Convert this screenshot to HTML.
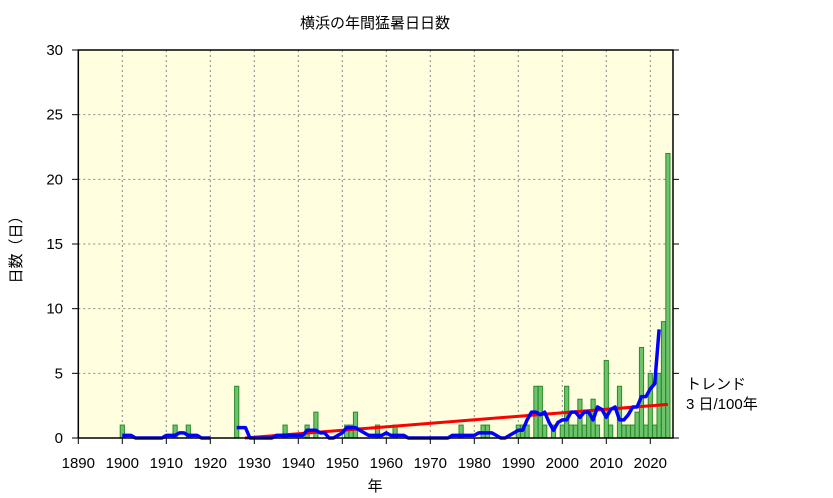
<!DOCTYPE html>
<html><head><meta charset="utf-8"><style>body{margin:0;background:#fff}svg{display:block}text{font-family:"Liberation Sans","Noto Sans CJK JP",sans-serif;font-size:15px;fill:#000}</style></head>
<body>
<svg id="s" width="833" height="498" viewBox="0 0 833 498" xmlns="http://www.w3.org/2000/svg">
<rect x="78.3" y="50" width="594.7" height="388" fill="#ffffe0"/>
<g id="grid" stroke="#888" stroke-width="1" stroke-dasharray="2,3"></g>
<g id="bars" fill="#6cc36c" stroke="#2a8a2a" stroke-width="1"></g>
<line x1="245" y1="438" x2="667.9" y2="404.4" stroke="#ff0000" stroke-width="3"/>
<g id="ma" fill="none" stroke="#0000ff" stroke-width="3.5" stroke-linejoin="round"></g>
<rect x="78.3" y="50" width="594.7" height="388" fill="none" stroke="#000" stroke-width="1.5"/>
<g id="ticks" stroke="#000" stroke-width="1"></g>
<g id="labels"></g>
<text x="375" y="28" text-anchor="middle">横浜の年間猛暑日日数</text>
<text x="375" y="491" text-anchor="middle">年</text>
<text transform="translate(21,246) rotate(-90)" text-anchor="middle">日数（日）</text>
<text x="686" y="389">トレンド</text>
<text x="686" y="409">3 日/100年</text>
</svg>
<script>
var NS="http://www.w3.org/2000/svg";
function X(y){return 78.3+(y-1890)*4.4}
function Y(v){return 438-v*12.933}
function el(p,t,a,txt){var e=document.createElementNS(NS,t);for(var k in a)e.setAttribute(k,a[k]);if(txt!=null)e.textContent=txt;document.getElementById(p).appendChild(e);}
for(var y=1900;y<=2020;y+=10)el("grid","line",{x1:X(y),x2:X(y),y1:50,y2:438});
for(var v=5;v<30;v+=5)el("grid","line",{x1:78.3,x2:673,y1:Y(v),y2:Y(v)});
for(var y=1890;y<=2020;y+=10){el("ticks","line",{x1:X(y),x2:X(y),y1:438,y2:444});el("labels","text",{x:X(y),y:468,"text-anchor":"middle"},String(y));}
for(var v=0;v<=30;v+=5){el("ticks","line",{x1:72,x2:78,y1:Y(v),y2:Y(v)});el("ticks","line",{x1:673,x2:679,y1:Y(v),y2:Y(v)});el("labels","text",{x:63,y:Y(v)+5,"text-anchor":"end"},String(v));}
var d={};for(var y=1898;y<=2024;y++)if(y!=1923)d[y]=0;
var nz={1900:1,1912:1,1915:1,1926:4,1937:1,1942:1,1944:2,1951:1,1952:1,1953:2,1958:1,1962:1,1977:1,1982:1,1983:1,1990:1,1991:1,1992:1,1994:4,1995:4,1996:1,1998:1,2000:1,2001:4,2002:1,2003:1,2004:3,2005:1,2006:2,2007:3,2008:1,2010:6,2011:1,2013:4,2014:1,2015:1,2016:1,2017:2,2018:7,2019:1,2020:5,2021:1,2022:5,2023:9,2024:22};
for(var k in nz)d[k]=nz[k];
for(var y in d){if(d[y]>0)el("bars","rect",{x:X(+y)-2.1,y:Y(d[y]),width:4.2,height:d[y]*12.933});}
var pts=[];
function flush(){if(pts.length>1)el("ma","polyline",{points:pts.join(" ")});pts=[];}
for(var y=1900;y<=2022;y++){var ok=true,s=0;for(var j=y-2;j<=y+2;j++){if(d[j]===undefined)ok=false;else s+=d[j];}
if(ok)pts.push(X(y)+","+Y(s/5));else flush();}
flush();
</script>
</body></html>
